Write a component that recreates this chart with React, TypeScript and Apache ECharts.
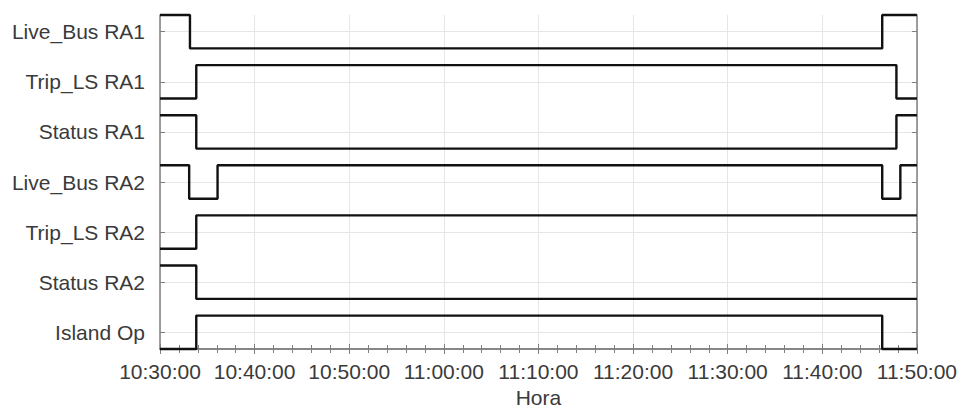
import React, { useEffect, useRef } from "react";
import * as echarts from "echarts";

// Signal names, top to bottom
const signalNames = [
  "Live_Bus RA1",
  "Trip_LS RA1",
  "Status RA1",
  "Live_Bus RA2",
  "Trip_LS RA2",
  "Status RA2",
  "Island Op",
];

// Transition times and the state that begins at each time
const liveBusRA1Times = ["10:30:00", "10:33:10", "11:46:20", "11:50:00"];
const liveBusRA1States = [1, 0, 1, 1];

const tripLsRA1Times = ["10:30:00", "10:33:50", "11:47:50", "11:50:00"];
const tripLsRA1States = [0, 1, 0, 0];

const statusRA1Times = ["10:30:00", "10:33:50", "11:47:50", "11:50:00"];
const statusRA1States = [1, 0, 1, 1];

const liveBusRA2Times = ["10:30:00", "10:33:05", "10:36:05", "11:46:20", "11:48:15", "11:50:00"];
const liveBusRA2States = [1, 0, 1, 0, 1, 1];

const tripLsRA2Times = ["10:30:00", "10:33:50", "11:50:00"];
const tripLsRA2States = [0, 1, 1];

const statusRA2Times = ["10:30:00", "10:33:50", "11:50:00"];
const statusRA2States = [1, 0, 0];

const islandOpTimes = ["10:30:00", "10:33:50", "11:46:20", "11:50:00"];
const islandOpStates = [0, 1, 0, 0];

// Axis range
const xStart = "10:30:00";
const xEnd = "11:50:00";
const xTickStep = 600; // seconds

const signalTimes = [
  liveBusRA1Times,
  tripLsRA1Times,
  statusRA1Times,
  liveBusRA2Times,
  tripLsRA2Times,
  statusRA2Times,
  islandOpTimes,
];
const signalStates = [
  liveBusRA1States,
  tripLsRA1States,
  statusRA1States,
  liveBusRA2States,
  tripLsRA2States,
  statusRA2States,
  islandOpStates,
];

const BAND_STEP = 1.5;
const N = signalNames.length;
const Y_MAX = (N - 1) * BAND_STEP + 1;

function toSec(t: string): number {
  const [h, m, s] = t.split(":").map(Number);
  return h * 3600 + m * 60 + s;
}
function fmt(sec: number): string {
  const h = Math.floor(sec / 3600);
  const m = Math.floor((sec % 3600) / 60);
  const s = Math.round(sec % 60);
  const p = (n: number) => String(n).padStart(2, "0");
  return `${p(h)}:${p(m)}:${p(s)}`;
}

const centers = signalNames.map((_, i) => (N - 1 - i) * BAND_STEP + 0.5);

export default function App() {
  const ref = useRef<HTMLDivElement>(null);
  useEffect(() => {
    document.body.style.margin = "0";
    if (!ref.current) return;
    const chart = echarts.init(ref.current, null, { renderer: "svg" });
    const font = "'Liberation Sans', Arial, Helvetica, sans-serif";
    const axisGray = "#7f7f7f";
    const series = signalNames.map((name, i) => {
      const base = (N - 1 - i) * BAND_STEP;
      const times = signalTimes[i];
      const states = signalStates[i];
      return {
        name,
        type: "line",
        step: "end",
        showSymbol: false,
        symbol: "none",
        clip: false,
        data: times.map((t, k) => [toSec(t), base + states[k]]),
        lineStyle: { color: "#111", width: 2.4 },
        itemStyle: { color: "#111" },
      };
    });
    chart.setOption({
      animation: false,
      grid: { left: 160, right: 41, top: 15, bottom: 65, containLabel: false },
      xAxis: [
        {
          type: "value",
          min: toSec(xStart),
          max: toSec(xEnd),
          interval: xTickStep,
          name: "Hora",
          nameLocation: "middle",
          nameGap: 37,
          nameTextStyle: { fontFamily: font, fontSize: 21, color: "#3a3a3a" },
          axisLine: { show: true, lineStyle: { color: axisGray, width: 1.5 } },
          axisTick: { show: true, inside: true, length: 5, lineStyle: { color: axisGray } },
          minorTick: { show: true, splitNumber: 5, length: 4, lineStyle: { color: axisGray } },
          axisLabel: {
            formatter: (v: number) => fmt(v),
            fontFamily: font,
            fontSize: 21,
            color: "#3a3a3a",
            margin: 12,
            showMinLabel: true,
            showMaxLabel: true,
          },
          splitLine: { show: true, lineStyle: { color: "#e6e6e6", width: 1 } },
        },
        {
          type: "value",
          position: "top",
          min: toSec(xStart),
          max: toSec(xEnd),
          interval: xTickStep,
          axisLine: { show: true, lineStyle: { color: axisGray, width: 1.5 } },
          axisTick: { show: true, inside: true, length: 5, lineStyle: { color: axisGray } },
          minorTick: { show: true, splitNumber: 5, length: 4, lineStyle: { color: axisGray } },
          axisLabel: { show: false },
          splitLine: { show: false },
        },
      ],
      yAxis: [
        {
          type: "value",
          min: 0,
          max: Y_MAX,
          axisLine: { show: true, lineStyle: { color: axisGray, width: 1.5 } },
          axisTick: {
            show: true,
            inside: true,
            length: 5,
            customValues: centers,
            lineStyle: { color: axisGray },
          },
          axisLabel: {
            customValues: centers,
            formatter: (v: number) => {
              const idx = Math.round((centers[0] - v) / BAND_STEP);
              return signalNames[idx] ?? "";
            },
            fontFamily: font,
            fontSize: 21,
            color: "#3a3a3a",
            margin: 15,
          },
          splitLine: { show: true, lineStyle: { color: "#e6e6e6", width: 1 } },
        },
        {
          type: "value",
          position: "right",
          min: 0,
          max: Y_MAX,
          axisLine: { show: true, lineStyle: { color: axisGray, width: 1.5 } },
          axisTick: {
            show: true,
            inside: true,
            length: 5,
            customValues: centers,
            lineStyle: { color: axisGray },
          },
          axisLabel: { show: false, customValues: centers },
          splitLine: { show: false },
        },
      ],
      series,
    });
    return () => chart.dispose();
  }, []);
  return <div ref={ref} style={{ width: 960, height: 414 }} />;
}
